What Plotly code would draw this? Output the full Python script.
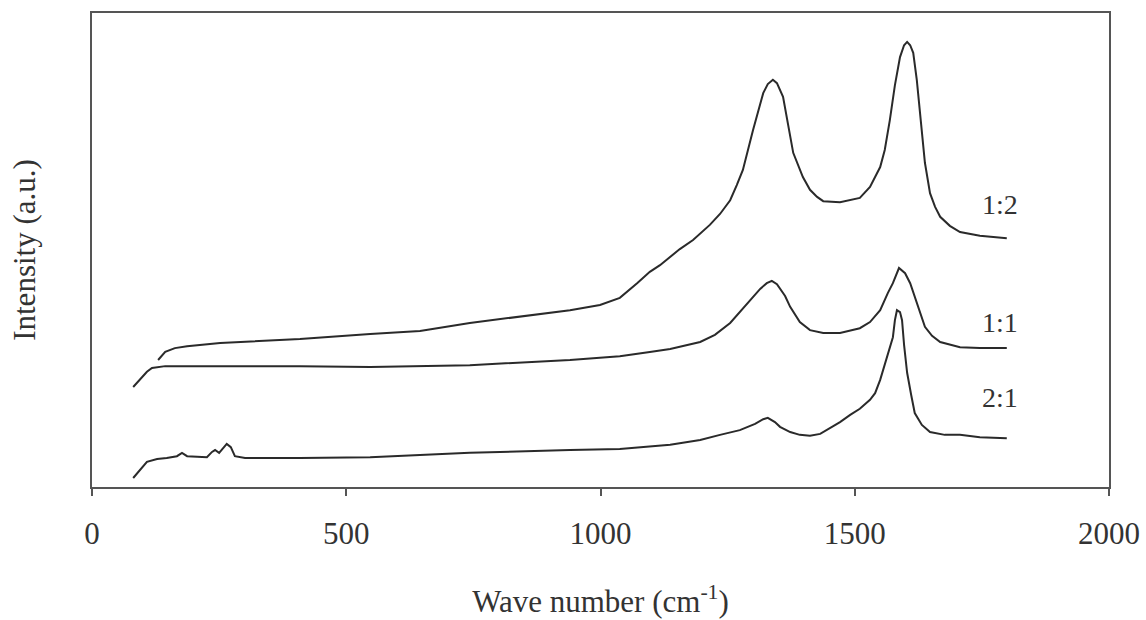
import plotly.graph_objects as go

# Raman spectra (wavenumber in cm^-1, intensity in arbitrary units)
wn_12 = [130, 144, 163, 187, 252, 330, 409, 547, 645, 743, 842, 940, 999, 1038, 1072,
         1097, 1117, 1137, 1156, 1182, 1215, 1235, 1255, 1268, 1280, 1300, 1320, 1329,
         1339, 1347, 1359, 1369, 1379, 1398, 1412, 1426, 1438, 1471, 1510, 1530, 1550,
         1559, 1569, 1579, 1589, 1597, 1603, 1609, 1615, 1622, 1628, 1638, 1648, 1658,
         1668, 1687, 1707, 1746, 1799]
int_12 = [26.8, 28.5, 29.3, 29.7, 30.4, 30.8, 31.2, 32.3, 32.9, 34.6, 35.9, 37.3, 38.4,
          39.9, 43.0, 45.4, 46.8, 48.5, 50.2, 52.1, 55.3, 57.6, 60.5, 63.7, 66.9, 75.3,
          83.1, 85.0, 85.9, 85.2, 82.3, 76.4, 70.5, 65.4, 62.7, 61.2, 60.3, 60.1, 61.0,
          63.3, 67.5, 71.1, 77.4, 84.8, 90.7, 93.2, 93.9, 93.2, 91.6, 85.9, 78.9, 68.4,
          62.0, 59.1, 57.0, 55.1, 53.8, 53.0, 52.5]

wn_11 = [81, 94, 108, 118, 144, 212, 311, 409, 547, 743, 940, 1038, 1097, 1137, 1196,
         1225, 1255, 1274, 1294, 1314, 1327, 1337, 1347, 1363, 1373, 1392, 1412, 1438,
         1471, 1510, 1530, 1550, 1565, 1575, 1587, 1599, 1609, 1618, 1628, 1638, 1652,
         1668, 1707, 1746, 1799]
int_11 = [21.1, 22.6, 24.3, 25.1, 25.5, 25.5, 25.5, 25.5, 25.3, 25.7, 26.8, 27.6, 28.5,
          29.1, 30.6, 32.1, 34.6, 36.9, 39.5, 41.8, 43.0, 43.5, 42.8, 40.3, 38.0, 34.8,
          33.1, 32.5, 32.5, 33.5, 34.8, 37.3, 40.9, 43.0, 46.2, 45.1, 43.0, 40.1, 36.7,
          33.8, 31.9, 30.6, 29.5, 29.3, 29.3]

wn_21 = [81, 94, 108, 128, 147, 167, 177, 187, 212, 226, 236, 242, 250, 258, 265, 273,
         281, 301, 409, 547, 743, 940, 1038, 1137, 1196, 1235, 1274, 1304, 1320, 1329,
         1343, 1353, 1373, 1392, 1412, 1432, 1451, 1471, 1491, 1510, 1530, 1540, 1550,
         1560, 1567, 1575, 1579, 1583, 1589, 1593, 1597, 1603, 1611, 1618, 1632, 1648,
         1677, 1707, 1746, 1799]
int_21 = [1.9, 3.6, 5.3, 5.9, 6.1, 6.5, 7.2, 6.5, 6.3, 6.3, 7.4, 7.8, 7.2, 8.2, 9.1,
          8.4, 6.5, 6.1, 6.1, 6.3, 7.2, 7.8, 8.0, 8.9, 9.9, 11.0, 12.0, 13.3, 14.3, 14.6,
          13.7, 12.7, 11.6, 11.0, 10.8, 11.2, 12.4, 13.7, 15.2, 16.5, 18.4, 19.8, 22.6,
          26.2, 28.9, 31.6, 35.2, 37.3, 36.9, 35.2, 30.0, 24.1, 19.4, 15.6, 13.1, 11.6,
          11.0, 11.0, 10.5, 10.3]

series_names = ["1:2", "1:1", "2:1"]
label_x = [1786, 1786, 1786]
label_y = [59.5, 34.8, 18.8]

x_ticks = [0, 500, 1000, 1500, 2000]

FONT = "Liberation Serif, Times New Roman, serif"
LINE_COLOR = "#2a2a2a"
AXIS_COLOR = "#555555"
TEXT_COLOR = "#333333"

fig = go.Figure()
for wn, inten, name in zip([wn_12, wn_11, wn_21], [int_12, int_11, int_21], series_names):
    fig.add_trace(go.Scatter(x=wn, y=inten, mode="lines", name=name,
                             line=dict(color=LINE_COLOR, width=2),
                             showlegend=False))

for name, lx, ly in zip(series_names, label_x, label_y):
    fig.add_annotation(x=lx, y=ly, text=name, showarrow=False,
                       font=dict(family=FONT, size=28, color=TEXT_COLOR),
                       xanchor="center", yanchor="middle")

fig.update_layout(
    width=1146, height=620,
    margin=dict(l=92, r=37, t=13, b=133),
    paper_bgcolor="white", plot_bgcolor="white",
    font=dict(family=FONT, size=31, color=TEXT_COLOR),
    xaxis=dict(
        range=[0, 2000], tickvals=x_ticks, ticktext=[str(t) for t in x_ticks],
        showline=True, linecolor=AXIS_COLOR, linewidth=1.8, mirror=True,
        ticks="outside", ticklen=7, tickcolor=AXIS_COLOR, tickwidth=1.5,
        showgrid=False, zeroline=False, automargin=False,
        tickfont=dict(family=FONT, size=31, color=TEXT_COLOR),
        ticklabelstandoff=11,
        title=dict(text="Wave number (cm<sup>-1</sup>)",
                   font=dict(family=FONT, size=31, color=TEXT_COLOR),
                   standoff=40),
    ),
    yaxis=dict(
        range=[0, 100], showticklabels=False, ticks="",
        showline=True, linecolor=AXIS_COLOR, linewidth=1.8, mirror=True,
        showgrid=False, zeroline=False, automargin=False,
        title=dict(text="Intensity (a.u.)",
                   font=dict(family=FONT, size=31, color=TEXT_COLOR),
                   standoff=45),
    ),
)

fig.write_html("out.html")
